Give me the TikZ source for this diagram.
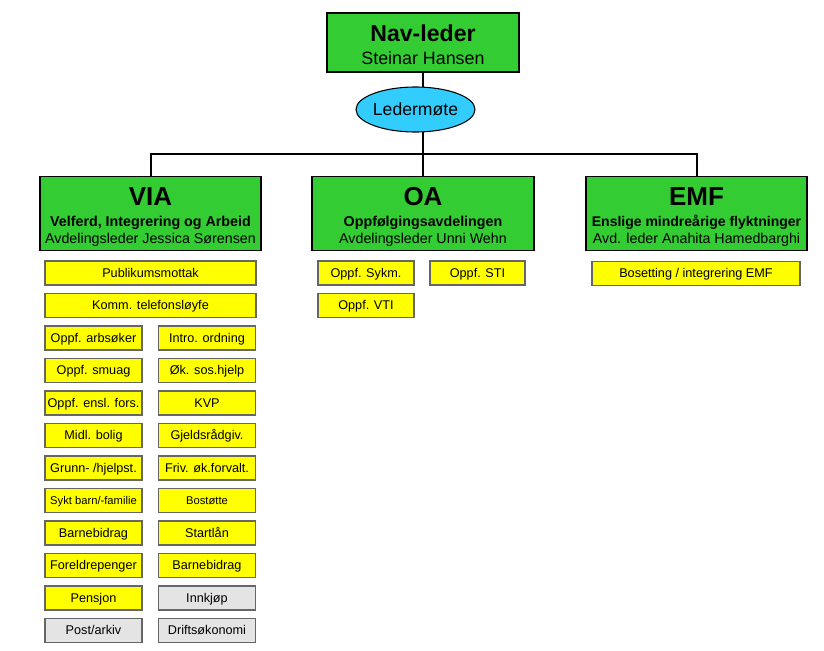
\documentclass[tikz,border=0pt]{standalone}
\usepackage{fontspec}
\setmainfont{Liberation Sans}
\usetikzlibrary{shapes.geometric,backgrounds}
\definecolor{boxgreen}{RGB}{51,204,51}
\definecolor{boxyellow}{RGB}{255,255,0}
\definecolor{boxgray}{RGB}{228,228,228}
\definecolor{boxcyan}{RGB}{51,204,255}
\begin{document}
\begin{tikzpicture}[x=0.75pt,y=-0.75pt,
  greenbox/.style={draw=black, line width=1.1pt, fill=boxgreen, inner sep=0pt},
  unitbox/.style={draw=black!60, line width=0.9pt, fill=boxyellow, inner sep=0pt,
     minimum height=24*0.75pt, minimum width=97*0.75pt,
     font=\fontsize{9.5}{11}\selectfont, text height=7.5pt, text depth=1.5pt},
  smallunit/.style={unitbox, font=\fontsize{8.4}{10}\selectfont},
  grayunit/.style={unitbox, fill=boxgray},
  widebox/.style={unitbox, minimum width=211*0.75pt},
  conn/.style={line width=1.5pt, black},
  title/.style={anchor=base, font=\bfseries\fontsize{19.5}{22}\selectfont},
  subtitle/.style={anchor=base, font=\bfseries\fontsize{10.7}{13}\selectfont},
  leader/.style={anchor=base, font=\fontsize{10.7}{13}\selectfont}]
\useasboundingbox (0,0) rectangle (824,650);
% top
\node[greenbox, minimum width=192*0.75pt, minimum height=59*0.75pt] (nav) at (423,42.5) {};
\node[anchor=base, font=\bfseries\fontsize{17.3}{20}\selectfont] (navt) at (423,41) {Nav-leder};
\node[anchor=base, font=\fontsize{13.4}{16}\selectfont] (navn) at (423,64) {Steinar Hansen};
\node[ellipse, draw=black, line width=0.8pt, fill=boxcyan, minimum width=119*0.75pt,
      minimum height=45*0.75pt, inner sep=0pt] (mote) at (415.5,109.5) {};
\node[anchor=base, font=\fontsize{13.2}{16}\selectfont] (motet) at (415.5,115) {Ledermøte};
% departments
\node[greenbox, minimum width=221*0.75pt, minimum height=73.5*0.75pt] (via) at (150.5,213.5) {};
\node[title] (viat) at (150.5,205) {VIA};
\node[subtitle] (vias) at (150.5,226) {Velferd, Integrering og Arbeid};
\node[leader] (vial) at (150.5,243) {Avdelingsleder Jessica Sørensen};
\node[greenbox, minimum width=222*0.75pt, minimum height=73.5*0.75pt] (oa) at (423,213.5) {};
\node[title] (oat) at (423,205) {OA};
\node[subtitle] (oas) at (423,226) {Oppfølgingsavdelingen};
\node[leader] (oal) at (423,243) {Avdelingsleder Unni Wehn};
\node[greenbox, minimum width=221*0.75pt, minimum height=73.5*0.75pt] (emf) at (696.5,213.5) {};
\node[title] (emft) at (696.5,205) {EMF};
\node[subtitle, font=\bfseries\fontsize{10.5}{13}\selectfont] (emfs) at (696.5,226) {Enslige mindreårige flyktninger};
\node[leader] (emfl) at (696.5,243) {Avd. leder Anahita Hamedbarghi};
% connectors
\coordinate (hub) at (423,154);
\coordinate (hl) at (150.5,154);
\coordinate (hr) at (696.5,154);
\begin{scope}[on background layer]
\draw[conn] (nav.south) -- (hub);
\draw[conn] (via.north) -- (hl) -- (hr) -- (emf.north);
\draw[conn] (hub) -- (oa.north);
\end{scope}
% VIA units
\node[widebox] (pub) at (150.5,273) {Publikumsmottak};
\node[widebox] (komm) at (150.5,305.5) {Komm. telefonsløyfe};
\node[unitbox] (l1) at (93.5,338) {Oppf. arbsøker};
\node[unitbox] (l2) at (93.5,370.5) {Oppf. smuag};
\node[unitbox] (l3) at (93.5,403) {Oppf. ensl. fors.};
\node[unitbox] (l4) at (93.5,435.5) {Midl. bolig};
\node[unitbox] (l5) at (93.5,468) {Grunn- /hjelpst.};
\node[smallunit] (l6) at (93.5,500.5) {Sykt barn/-familie};
\node[unitbox] (l7) at (93.5,533) {Barnebidrag};
\node[unitbox] (l8) at (93.5,565.5) {Foreldrepenger};
\node[unitbox] (l9) at (93.5,598) {Pensjon};
\node[grayunit] (l10) at (93.5,630.5) {Post/arkiv};
\node[unitbox] (r1) at (207,338) {Intro. ordning};
\node[unitbox] (r2) at (207,370.5) {Øk. sos.hjelp};
\node[unitbox] (r3) at (207,403) {KVP};
\node[unitbox] (r4) at (207,435.5) {Gjeldsrådgiv.};
\node[unitbox] (r5) at (207,468) {Friv. øk.forvalt.};
\node[smallunit] (r6) at (207,500.5) {Bostøtte};
\node[unitbox] (r7) at (207,533) {Startlån};
\node[unitbox] (r8) at (207,565.5) {Barnebidrag};
\node[grayunit] (r9) at (207,598) {Innkjøp};
\node[grayunit] (r10) at (207,630.5) {Driftsøkonomi};
% OA units
\node[unitbox, minimum width=96*0.75pt] (sykm) at (366,273) {Oppf. Sykm.};
\node[unitbox, minimum width=95*0.75pt] (sti) at (477.5,273) {Oppf. STI};
\node[unitbox, minimum width=96*0.75pt] (vti) at (366,305.5) {Oppf. VTI};
% EMF units
\node[unitbox, minimum width=208*0.75pt] (bos) at (696,273.5) {Bosetting / integrering EMF};
\end{tikzpicture}
\end{document}
